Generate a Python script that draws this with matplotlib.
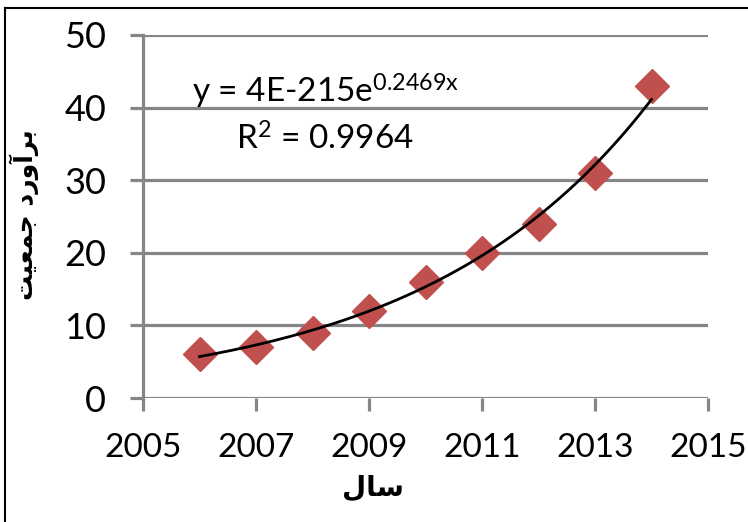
import numpy as np
import matplotlib
matplotlib.use("Agg")
import matplotlib.pyplot as plt
from matplotlib.lines import Line2D

# Datos del gráfico
years = [2006, 2007, 2008, 2009, 2010, 2011, 2012, 2013, 2014]
population = [6, 7, 9, 12, 16, 20, 24, 31, 43]
x_ticks = [2005, 2007, 2009, 2011, 2013, 2015]
y_ticks = [0, 10, 20, 30, 40, 50]
eq_text = "y = 4E-215e$^{0.2469x}$"
r2_text = "R$^{2}$ = 0.9964"
# Persian labels, pre-shaped (presentation forms, visual order)
x_label = "\uFEDD\uFE8E\uFEB3"   # سال
y_label = "\uFE96\uFBFF\uFECC\uFEE4\uFE9F \uFEA9\uFEAD\uFEED\uFE81\uFEAE\uFE91"   # برآورد جمعیت

plt.rcParams['font.family'] = ['Lato', 'DejaVu Sans']
plt.rcParams['mathtext.fontset'] = 'custom'
plt.rcParams['mathtext.rm'] = 'Lato'
plt.rcParams['mathtext.it'] = 'Lato'
plt.rcParams['mathtext.default'] = 'rm'

fig = plt.figure(figsize=(7.48, 5.22), dpi=100)
ax = fig.add_axes([143/748, 1 - 398/522, (708 - 143)/748, (398 - 35)/522])

# Línea de tendencia exponencial (ajuste sobre ln y)
b, a = np.polyfit(years, np.log(population), 1)
xs = np.linspace(years[0], years[-1], 200)
ax.plot(xs, np.exp(a + b * xs), color='black', lw=2, zorder=4)

# Puntos
ax.plot(years, population, linestyle='none', marker='D', ms=17,
        color='#C0504D', mec='#C0504D', zorder=3)

ax.set_xlim(2005, 2015)
ax.set_ylim(0, 50)
ax.set_xticks(x_ticks)
ax.set_yticks(y_ticks)
ax.yaxis.grid(True, color='#868686', lw=2.3)
ax.set_axisbelow(True)
for s in ['top', 'right', 'bottom']:
    ax.spines[s].set_visible(False)
ax.spines['left'].set_color('#868686')
ax.spines['left'].set_linewidth(2.3)
ax.tick_params(axis='both', colors='#868686', width=2.3, length=9.5,
               labelcolor='black')
ax.tick_params(axis='y', pad=17, labelsize=26)
ax.tick_params(axis='x', pad=16, labelsize=24)

ax.text(2008.24, 40.6, eq_text, fontsize=24, ha='center', va='baseline')
ax.text(2008.22, 34.2, r2_text, fontsize=24, ha='center', va='baseline')

fig.text(373/748, 1 - 488/522, x_label, family='DejaVu Sans', weight='bold',
         fontsize=20, ha='center', va='center')
fig.text(24/748, 1 - 215/522, y_label, family='DejaVu Sans', weight='bold',
         fontsize=18, ha='center', va='center', rotation=90)

# Marco de la figura
fig.add_artist(Line2D([5/748, 5/748], [0, 1 - 8/522], color='black', lw=1.5,
                      transform=fig.transFigure))
fig.add_artist(Line2D([5/748, 1], [1 - 8/522, 1 - 8/522], color='black', lw=1.5,
                      transform=fig.transFigure))

fig.savefig("out.png", dpi=100)
